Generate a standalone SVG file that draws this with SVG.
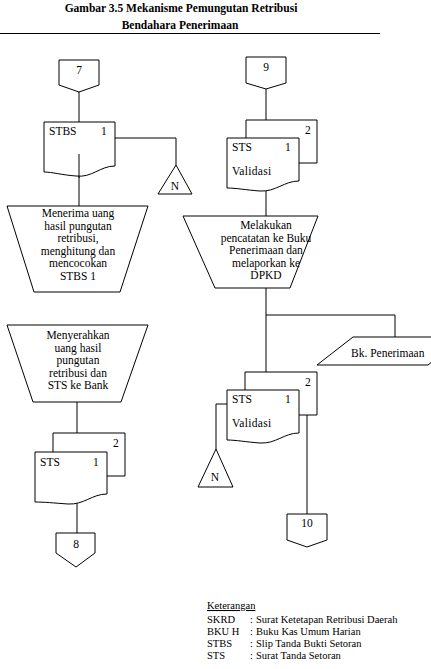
<svg xmlns="http://www.w3.org/2000/svg" width="431" height="669" viewBox="0 0 431 669" font-family="'Liberation Serif', 'DejaVu Serif', serif">
<style>
.s{fill:#fff;stroke:#000;stroke-width:1}
.l{fill:none;stroke:#000;stroke-width:1}
text{font-family:'Liberation Serif','DejaVu Serif',serif;font-size:11.5px;fill:#000}
.c{text-anchor:middle}
.t{font-weight:bold;font-size:11.5px}
.g{font-size:10.5px}
</style>
<rect width="431" height="669" fill="#fff"/>
<g id="title">
<text class="t c" x="181" y="12">Gambar 3.5 Mekanisme Pemungutan Retribusi</text>
<text class="t c" x="180" y="29">Bendahara Penerimaan</text>
<line class="l" x1="0" y1="33.5" x2="380" y2="33.5"/>
</g>
<g id="connectors">
<path class="l" d="M79,92 V122"/>
<path class="l" d="M79,154 V206"/>
<path class="l" d="M115,138 H176 V165"/>
<path class="l" d="M266,89 V120"/>
<path class="l" d="M266,188 V216"/>
<path class="l" d="M266,288 V372"/>
<path class="l" d="M266,315 H395 V337"/>
<path class="l" d="M227,404 H216 V449"/>
<path class="l" d="M307,415 V514"/>
<path class="l" d="M77,402 V433"/>
<path class="l" d="M77,497 V533"/>
</g>
<g id="off7">
<path class="s" d="M59,60 H99 V85 L79,92 L59,85 Z"/>
<text class="c" x="79" y="74">7</text>
</g>
<g id="docSTBS">
<path class="s" d="M44,122 H115 V166 C100,166 92,178 76,176 C62,175 52,172 44,172 Z"/>
<text x="49" y="135">STBS</text>
<text x="101" y="135">1</text>
<line class="l" x1="79" y1="154" x2="79" y2="178"/>
</g>
<g id="n1">
<path class="s" d="M176,165 L192,194 L158,194 Z"/>
<text class="c" x="175" y="190">N</text>
</g>
<g id="proc1">
<path class="s" d="M7,206 H148 L120,292 H34 Z"/>
<text class="c" x="78" y="217">Menerima uang</text>
<text class="c" x="78" y="229.5">hasil pungutan</text>
<text class="c" x="78" y="242">retribusi,</text>
<text class="c" x="78" y="254.5">menghitung dan</text>
<text class="c" x="78" y="267">mencocokan</text>
<text class="c" x="78" y="279.5">STBS 1</text>
</g>
<g id="proc2">
<path class="s" d="M7,325 H148 L121,402 H33 Z"/>
<text class="c" x="78" y="339">Menyerahkan</text>
<text class="c" x="78" y="351.5">uang hasil</text>
<text class="c" x="78" y="364">pungutan</text>
<text class="c" x="78" y="376.5">retribusi dan</text>
<text class="c" x="78" y="389">STS ke Bank</text>
</g>
<g id="docSTSleft">
<path class="s" d="M53,452 V433 H125 V476 H107"/>
<text x="113" y="447">2</text>
<path class="s" d="M35,452 H107 V494 C92,494 84,505 68,504 C54,503 44,502 35,502 Z"/>
<text x="40" y="466">STS</text>
<text x="93" y="466">1</text>
</g>
<g id="off8">
<path class="s" d="M56,533 H95 V553 L76,567 L56,553 Z"/>
<text class="c" x="76" y="548">8</text>
</g>
<g id="off9">
<path class="s" d="M246,57 H286 V83 L266,89 L246,83 Z"/>
<text class="c" x="266" y="71">9</text>
</g>
<g id="docSTStop">
<path class="s" d="M246,138 V120 H317 V163 H299"/>
<text x="305" y="134">2</text>
<path class="s" d="M227,138 H299 V181 C284,181 276,192 260,191 C246,190 236,188 227,188 Z"/>
<text x="232" y="151">STS</text>
<text x="285" y="151">1</text>
<text x="232" y="175" letter-spacing="0.3">Validasi</text>
</g>
<g id="proc3">
<path class="s" d="M183,216 H318 L290,288 H215 Z"/>
<text class="c" x="266" y="229">Melakukan</text>
<text class="c" x="266" y="241.5">pencatatan ke Buku</text>
<text class="c" x="266" y="254">Penerimaan dan</text>
<text class="c" x="266" y="266.5">melaporkan ke</text>
<text class="c" x="266" y="279">DPKD</text>
</g>
<g id="bkPenerimaan">
<path class="s" d="M353,337 H464 L428,365 H317 Z"/>
<text x="351" y="357">Bk. Penerimaan</text>
</g>
<g id="docSTSbottom">
<path class="s" d="M245,390 V372 H317 V415 H299"/>
<text x="305" y="386">2</text>
<path class="s" d="M227,390 H299 V433 C284,433 276,444 260,443 C246,442 236,440 227,440 Z"/>
<text x="232" y="403">STS</text>
<text x="285" y="403">1</text>
<text x="232" y="427" letter-spacing="0.3">Validasi</text>
</g>
<g id="n2">
<path class="s" d="M216,449 L233,487 L198,487 Z"/>
<text class="c" x="215" y="481">N</text>
</g>
<g id="off10">
<path class="s" d="M287,514 H327 V540 L307,547 L287,540 Z"/>
<text class="c" x="307" y="527">10</text>
</g>
<g id="legend">
<text class="g" x="207" y="609" text-decoration="underline">Keterangan</text>
<text class="g" x="207" y="623">SKRD</text><text class="g" x="250" y="623">:</text><text class="g" x="256" y="623">Surat Ketetapan Retribusi Daerah</text>
<text class="g" x="207" y="635">BKU H</text><text class="g" x="250" y="635">:</text><text class="g" x="256" y="635">Buku Kas Umum Harian</text>
<text class="g" x="207" y="647">STBS</text><text class="g" x="250" y="647">:</text><text class="g" x="256" y="647">Slip Tanda Bukti Setoran</text>
<text class="g" x="207" y="659">STS</text><text class="g" x="250" y="659">:</text><text class="g" x="256" y="659">Surat Tanda Setoran</text>
</g>
</svg>
